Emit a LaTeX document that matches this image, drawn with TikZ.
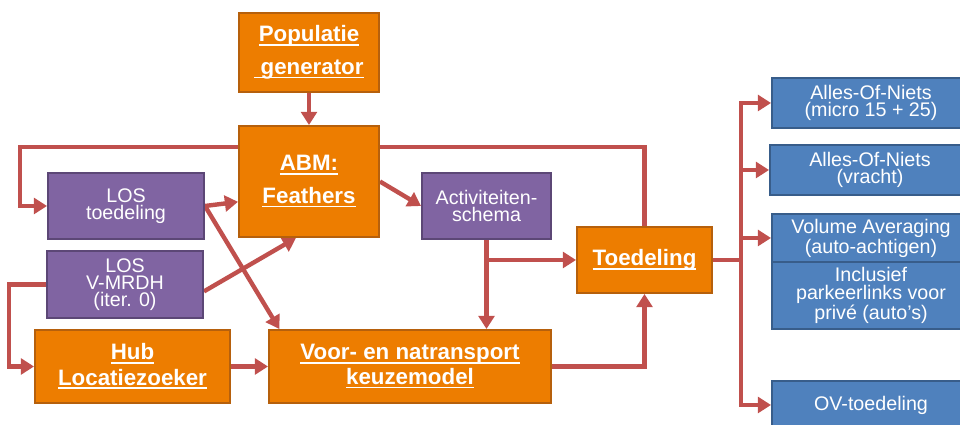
\documentclass[tikz,border=0pt]{standalone}
\usepackage{fontspec}
\setmainfont{Liberation Sans}
\usetikzlibrary{arrows.meta,backgrounds}
\definecolor{modelorange}{RGB}{237,125,0}
\definecolor{modelorangedark}{RGB}{182,96,12}
\definecolor{lospurple}{RGB}{128,100,162}
\definecolor{lospurpledark}{RGB}{92,71,118}
\definecolor{assignblue}{RGB}{79,129,189}
\definecolor{assignbluedark}{RGB}{56,93,138}
\definecolor{linkred}{RGB}{192,80,77}
\newsavebox\ulbox
\newcommand{\ulword}[1]{\sbox\ulbox{#1}\rlap{\rule[-2.2pt]{\wd\ulbox}{1pt}}\usebox\ulbox}

\begin{document}
\begin{tikzpicture}[
  modelbox/.style={draw=modelorangedark,fill=modelorange,line width=1.1pt,text=white,
    font=\fontsize{12.7}{18.5}\selectfont\bfseries,align=center,inner sep=0pt},
  losbox/.style={draw=lospurpledark,fill=lospurple,line width=1.1pt,text=white,
    font=\fontsize{11.2}{9.8}\selectfont,align=center,inner sep=0pt},
  assignbox/.style={draw=assignbluedark,fill=assignblue,line width=1.1pt,text=white,
    font=\fontsize{11.2}{10}\selectfont,align=center,inner sep=0pt,
    minimum width=3.96cm},
  link/.style={draw=linkred,line width=2.5pt,-{Triangle[length=7.5pt,width=9pt]}},
  line/.style={draw=linkred,line width=2.5pt}]
\useasboundingbox (0,0) rectangle (19.2,8.5);
\clip (0,0) rectangle (19.2,8.5);

% Models
\node[modelbox,minimum width=2.8cm,minimum height=1.58cm] (pop) at (6.18,7.45)
  {\ulword{Populatie}\\\ulword{\ generator}};
\node[modelbox,minimum width=2.8cm,minimum height=2.22cm] (abm) at (6.18,4.87)
  {\ulword{ABM:}\\\ulword{Feathers}};
\node[modelbox,minimum width=3.9cm,minimum height=1.46cm,
  font=\fontsize{12.7}{14.5}\selectfont\bfseries] (hub) at (2.65,1.17)
  {\ulword{Hub}\\\ulword{Locatiezoeker}};
\node[modelbox,minimum width=5.64cm,minimum height=1.46cm,
  font=\fontsize{12.7}{14}\selectfont\bfseries] (voor) at (8.20,1.17)
  {\ulword{Voor- en natransport}\\\ulword{keuzemodel}};
\node[modelbox,minimum width=2.7cm,minimum height=1.32cm] (toed) at (12.89,3.30)
  {\ulword{Toedeling}};

% LOS and schedules
\node[losbox,minimum width=3.12cm,minimum height=1.32cm] (los1) at (2.52,4.38)
  {LOS\\toedeling};
\node[losbox,minimum width=3.12cm,minimum height=1.34cm] (los2) at (2.50,2.81)
  {LOS\\V-MRDH\\(iter. 0)};
\node[losbox,minimum width=2.58cm,minimum height=1.32cm] (act) at (9.73,4.38)
  {Activiteiten-\\schema};

% Assignments
\node[assignbox,minimum height=1.0cm] (aon1) at (17.42,6.44)
  {Alles-Of-Niets\\(micro 15 + 25)};
\node[assignbox,minimum width=4.0cm,minimum height=1.0cm] (aon2) at (17.40,5.10)
  {Alles-Of-Niets\\(vracht)};
\node[assignbox,minimum height=0.96cm] (vol) at (17.42,3.74)
  {Volume Averaging\\(auto-achtigen)};
\node[assignbox,minimum height=1.34cm] (incl) at (17.42,2.59)
  {Inclusief\\parkeerlinks voor\\privé (auto’s)};
\node[assignbox,minimum height=0.96cm] (ov) at (17.42,0.40)
  {OV-toedeling};

% Arrows
\begin{scope}[on background layer]
\draw[link] (pop) -- (abm);
\draw[link] (toed.north) |- (0.40,5.56) |- (los1.west);
\draw[link] (los1.east) -- (abm.196);
\draw[link] (los1.east) -- (voor.164);
\draw[link] (los2.-5) -- (abm.257);
\draw[link] (los2.west) -- ++(-0.74,0) |- (hub.west);
\draw[link] (hub) -- (voor);
\draw[link] (abm.east) -- (act.west);
\draw[link] (act.south) -- (act.south |- voor.north);
\draw[link] (act.south |- toed.west) -- (toed.west);
\draw[link] (voor.east) -| (toed.south);
\draw[line] (toed.east) -- ++(0.56,0) coordinate (split);
\draw[link] (split) |- (aon1.west);
\draw[link] (split) |- (aon2.west);
\draw[link] (split) |- (vol.west);
\draw[link] (split) |- (ov.west);
\end{scope}
\end{tikzpicture}
\end{document}
